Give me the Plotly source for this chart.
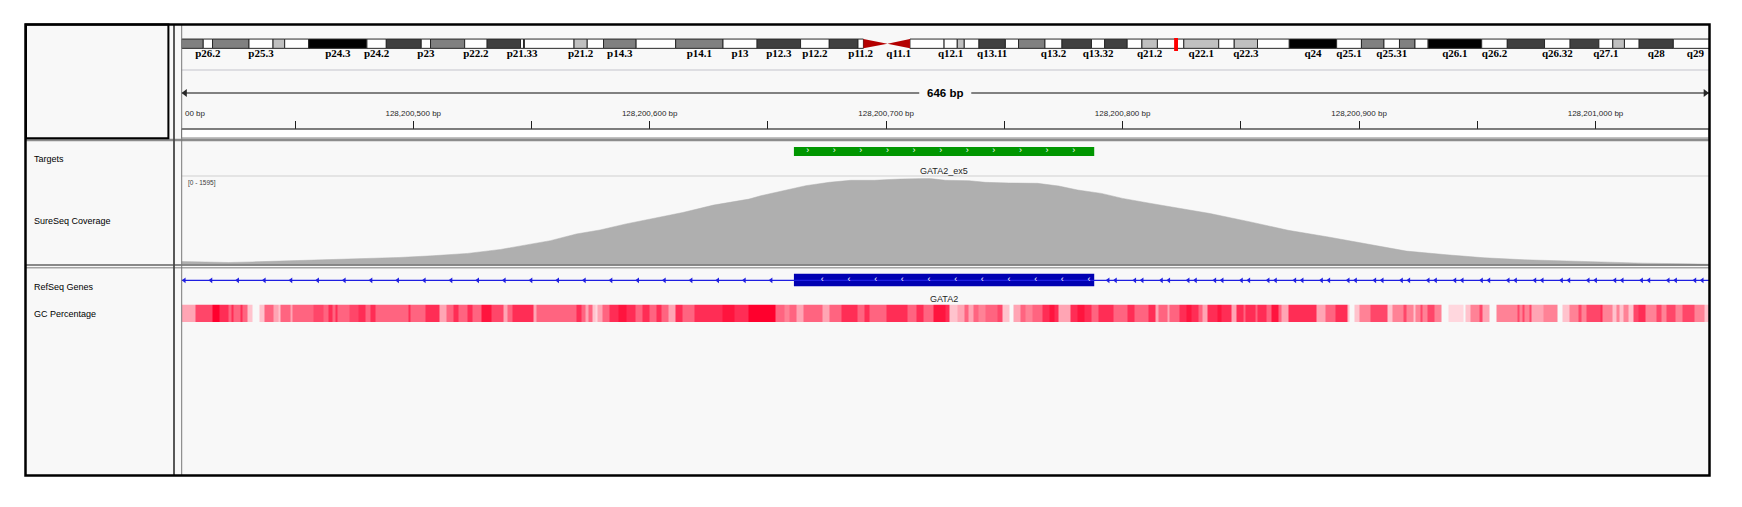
"""
IGV snapshot - GATA2 exon 5 (chr3), SureSeq coverage / RefSeq / GC tracks
"""
import numpy as np
import plotly.graph_objects as go

W, H = 1742, 507

# ─── view window ───
VIEW_START = 128200402
VIEW_END = 128201048

TICK_VALS = [128200450, 128200500, 128200550, 128200600, 128200650, 128200700,
             128200750, 128200800, 128200850, 128200900, 128200950, 128201000]
TICK_TEXT = ["", "128,200,500 bp", "", "128,200,600 bp", "", "128,200,700 bp",
             "", "128,200,800 bp", "", "128,200,900 bp", "", "128,201,000 bp"]

TRACK_NAMES = ["Targets", "SureSeq Coverage", "RefSeq Genes", "GC Percentage"]

TARGET_NAME = "GATA2_ex5"
TARGET_START, TARGET_END = 128200661, 128200788
GENE_NAME = "GATA2"
EXON_START, EXON_END = 128200661, 128200788

# ─── coverage (offset from view start, depth) ───
COV_MAX = 1595
COV_POS = [0, 10, 20, 30, 37, 52, 62, 74, 92, 106, 121, 135, 149, 156, 167, 177, 188, 200, 212, 225,
           240, 245, 255, 264, 274, 283, 293, 304, 316, 323, 333, 340, 350, 362, 371, 379, 389, 398, 410, 423,
           435, 452, 468, 485, 501, 518, 535, 551, 568, 585, 601, 618, 637, 646]
COV_VAL = [56, 45, 37, 48, 56, 74, 93, 112, 130, 161, 205, 279, 379, 441, 565, 639, 751, 850, 962, 1099,
           1210, 1272, 1372, 1458, 1521, 1558, 1558, 1583, 1595, 1558, 1551, 1520, 1508, 1502, 1452, 1378, 1316, 1223, 1129, 1036,
           943, 788, 633, 509, 385, 248, 180, 124, 87, 62, 37, 25, 12, 5]
assert len(COV_POS) == len(COV_VAL)

# ─── GC percentage runs (start offset, %) ───
GC_START = ([0, 6, 13, 16, 20, 21, 22, 25, 26, 28, 30, 33, 35, 39, 41, 42, 46, 47, 56, 60, 62, 64, 65, 66, 71,
             75, 78, 80, 82, 96, 97, 103, 109, 112, 115, 117, 121, 123, 127, 131, 136, 138, 140, 149, 150]
            + [167, 169, 171, 172, 174, 175, 176, 178, 181, 185, 188, 192, 195, 198, 201, 203, 206, 209, 212, 217,
               229, 234, 240, 251, 255, 257, 260, 263, 271, 274, 279, 286, 289, 291, 298, 307, 311, 314, 318, 323, 325, 328]
            + [331, 333, 335, 337, 340, 345, 347, 350, 352, 355, 357, 360, 364, 367, 369, 371, 376, 379, 382, 385,
               388, 394, 400, 403, 409, 412, 413, 417, 418, 422, 425, 427, 430, 432, 434, 438, 440, 444, 446, 449,
               450, 454, 455, 459, 461, 464, 465, 468, 480, 484, 488, 493, 494, 496]
            + [498, 503, 510, 512, 517, 518, 521, 522, 524, 525, 527, 530, 533, 536, 542, 543, 545, 549, 550, 553,
               556, 565, 566, 567, 568, 570, 571, 576, 582, 584, 587, 591, 592, 594, 600, 601, 605, 607, 608, 610,
               612, 614, 616, 619, 624, 626, 628, 632, 635, 640, 644])
GC_PCT = ([42, 64, 90, 72, 56, 72, 56, 72, 56, 36, None, 36, 56, 42, 36, 56, 42, 56, 64, 56, 72, 56, 72, 56, 64,
           72, 56, 72, 56, 72, 56, 72, 42, 56, 72, 56, 72, 56, 80, 64, 42, 56, 72, 42, 56]
          + [72, 56, 42, 56, 36, 30, 42, 56, 72, 80, 72, 56, 72, 56, 72, 56, 42, 72, 56, 72,
             80, 72, 90, 56, 50, 56, 42, 56, 42, 56, 72, 56, 72, 56, 72, 56, 72, 56, 80, 72, 36, 42]
          + [56, 42, 56, 50, 56, 64, 36, None, 42, 56, 50, 56, 72, 80, 72, 42, 72, 80, 72, 56,
             72, 56, 72, 56, 72, 42, 56, 42, 56, 72, 80, 72, 56, 42, 72, 80, 72, 42, 72, 56,
             72, 56, 72, 56, 80, 56, 42, 72, 42, 56, 72, 36, None, 36]
          + [50, 64, 36, 50, 64, 50, 36, 50, 64, 50, 64, 50, None, 30, None, 36, 50, 64, 42, None,
             50, 64, 50, 64, 50, 64, 42, 50, None, 36, 50, 64, 50, 64, 72, 50, 36, 50, 36, 50,
             36, 64, 72, 50, 64, 50, 64, 50, 64, 50, 36])
assert len(GC_START) == len(GC_PCT)

# ─── chr3 cytobands (end in Mb) ───
BAND_NAME = ["p26.3", "p26.2", "p26.1", "p25.3", "p25.2", "p25.1", "p24.3", "p24.2", "p24.1", "p23",
             "p22.3", "p22.2", "p22.1", "p21.33", "p21.32", "p21.31", "p21.2", "p21.1", "p14.3", "p14.2",
             "p14.1", "p13", "p12.3", "p12.2", "p12.1", "p11.2", "p11.1", "q11.1", "q11.2", "q12.1",
             "q12.2", "q12.3", "q13.11", "q13.12", "q13.13", "q13.2", "q13.31", "q13.32", "q13.33", "q21.1",
             "q21.2", "q21.3", "q22.1", "q22.2", "q22.3", "q23", "q24", "q25.1", "q25.2", "q25.31",
             "q25.32", "q25.33", "q26.1", "q26.2", "q26.31", "q26.32", "q26.33", "q27.1", "q27.2", "q27.3",
             "q28", "q29"]
BAND_END = [2.8, 4.0, 8.7, 11.8, 13.3, 16.4, 23.9, 26.4, 30.9, 32.1,
            36.5, 39.4, 43.7, 44.1, 44.2, 50.6, 52.3, 54.4, 58.6, 63.7,
            69.8, 74.2, 79.8, 83.5, 87.2, 87.9, 91.0, 93.9, 98.3, 100.0,
            100.9, 102.8, 106.2, 107.9, 111.3, 113.5, 117.3, 119.0, 121.9, 123.8,
            125.8, 129.2, 133.7, 135.7, 138.7, 142.8, 148.9, 152.1, 155.0, 157.0,
            159.0, 160.7, 167.6, 170.9, 175.7, 179.0, 182.7, 184.5, 186.0, 187.9,
            192.3, 198.0]
BAND_STAIN = ["gpos50", "gneg", "gpos50", "gneg", "gpos25", "gneg", "gpos100", "gneg", "gpos75", "gneg",
              "gpos50", "gneg", "gpos75", "gneg", "gpos50", "gneg", "gpos25", "gneg", "gpos50", "gneg",
              "gpos50", "gneg", "gpos75", "gneg", "gpos75", "gneg", "acen", "acen", "gvar", "gneg",
              "gpos25", "gneg", "gpos75", "gneg", "gpos50", "gneg", "gpos75", "gneg", "gpos75", "gneg",
              "gpos25", "gneg", "gpos25", "gneg", "gpos25", "gneg", "gpos100", "gneg", "gpos50", "gneg",
              "gpos50", "gneg", "gpos100", "gneg", "gpos75", "gneg", "gpos75", "gneg", "gpos25", "gneg",
              "gpos75", "gneg"]
BAND_LABELS = ["p26.2", "p25.3", "p24.3", "p24.2", "p23", "p22.2", "p21.33", "p21.2", "p14.3", "p14.1",
               "p13", "p12.3", "p12.2", "p11.2", "q11.1", "q12.1", "q13.11", "q13.2", "q13.32", "q21.2",
               "q22.1", "q22.3", "q24", "q25.1", "q25.31", "q26.1", "q26.2", "q26.32", "q27.1", "q28", "q29"]

STAIN_COLOR = {
    'gneg': 'rgb(255,255,255)', 'gvar': 'rgb(255,255,255)', 'gpos25': 'rgb(192,192,192)',
    'gpos50': 'rgb(128,128,128)', 'gpos75': 'rgb(64,64,64)', 'gpos100': 'rgb(0,0,0)',
    'acen': 'rgb(180,0,0)',
}

# ─── pixel helpers ───
def px(x):
    return x / W

def py(y):
    return 1 - y / H

DX0, DX1 = 181.5, 1709.0      # data panel
SANS = "Liberation Sans, Arial, sans-serif"

fig = go.Figure()

# ── ideogram ──
band_start = [0.0] + BAND_END[:-1]
idx = [i for i, s in enumerate(BAND_STAIN) if s != 'acen']
fig.add_trace(go.Bar(
    orientation='h', base=[band_start[i] for i in idx],
    x=[BAND_END[i] - band_start[i] for i in idx], y=[43.7] * len(idx), width=9.3,
    marker=dict(color=[STAIN_COLOR[BAND_STAIN[i]] for i in idx],
                line=dict(color='rgb(40,40,40)', width=1)),
    xaxis='x2', yaxis='y3', hoverinfo='skip', showlegend=False,
))
for i, s in enumerate(BAND_STAIN):
    if s != 'acen':
        continue
    a, b = band_start[i], BAND_END[i]
    if BAND_NAME[i].startswith('p'):
        xs, ys = [a, a, b, a], [39, 48.3, 43.7, 39]
    else:
        xs, ys = [b, b, a, b], [39, 48.3, 43.7, 39]
    fig.add_trace(go.Scatter(x=xs, y=ys, fill='toself', fillcolor=STAIN_COLOR['acen'],
                             line=dict(width=0), mode='lines', xaxis='x2', yaxis='y3',
                             hoverinfo='skip', showlegend=False))
# current locus marker
fig.add_trace(go.Bar(
    orientation='h', base=[VIEW_START / 1e6 - 0.25], x=[0.5], y=[44.5], width=13,
    marker=dict(color='rgb(255,0,0)', line=dict(width=0)),
    xaxis='x2', yaxis='y3', hoverinfo='skip', showlegend=False,
))
lab_x = [(band_start[BAND_NAME.index(n)] + BAND_END[BAND_NAME.index(n)]) / 2 for n in BAND_LABELS]
fig.add_trace(go.Scatter(
    x=lab_x, y=[54.5] * len(lab_x), mode='text', text=[f"<b>{n}</b>" for n in BAND_LABELS],
    textfont=dict(family="Liberation Serif, Times New Roman, serif", size=11, color='black'),
    xaxis='x2', yaxis='y3', hoverinfo='skip', showlegend=False, cliponaxis=False,
))

# ── ruler ──
mid = (VIEW_START + VIEW_END) / 2
gap = 11
fig.add_trace(go.Scatter(
    x=[VIEW_START, mid - gap, None, mid + gap, VIEW_END], y=[93, 93, None, 93, 93],
    mode='lines', line=dict(color='rgb(90,90,90)', width=1.3),
    xaxis='x', yaxis='y3', hoverinfo='skip', showlegend=False,
))
fig.add_trace(go.Scatter(
    x=[VIEW_START + 1.5, VIEW_END - 1.5], y=[93, 93], mode='markers',
    marker=dict(symbol=['triangle-left', 'triangle-right'], size=7, color='rgb(40,40,40)'),
    xaxis='x', yaxis='y3', hoverinfo='skip', showlegend=False, cliponaxis=False,
))

# ── targets ──
fig.add_trace(go.Bar(
    orientation='h', base=[TARGET_START], x=[TARGET_END - TARGET_START], y=[151.5], width=9,
    marker=dict(color='rgb(0,150,0)', line=dict(width=0)),
    xaxis='x', yaxis='y3', hoverinfo='skip', showlegend=False,
))
chev_t = np.arange(VIEW_START + 264.8, TARGET_END - 3, 11.25)
fig.add_trace(go.Scatter(
    x=chev_t, y=[151.2] * len(chev_t), mode='text', text=['›'] * len(chev_t),
    textfont=dict(family=SANS, size=9, color='white'),
    xaxis='x', yaxis='y3', hoverinfo='skip', showlegend=False,
))

# ── coverage ──
fig.add_trace(go.Scatter(
    x=[VIEW_START + p for p in COV_POS], y=COV_VAL, mode='lines', fill='tozeroy',
    fillcolor='rgb(175,175,175)', line=dict(color='rgb(175,175,175)', width=0.5),
    xaxis='x', yaxis='y', hoverinfo='skip', showlegend=False,
))

# ── RefSeq gene ──
fig.add_trace(go.Scatter(
    x=[VIEW_START, VIEW_END], y=[280.3, 280.3], mode='lines',
    line=dict(color='rgb(30,30,225)', width=1.2),
    xaxis='x', yaxis='y3', hoverinfo='skip', showlegend=False,
))
fig.add_trace(go.Bar(
    orientation='h', base=[EXON_START], x=[EXON_END - EXON_START], y=[280.0], width=12.6,
    marker=dict(color='rgb(0,0,178)', line=dict(width=0)),
    xaxis='x', yaxis='y3', hoverinfo='skip', showlegend=False,
))
arr_left = np.arange(VIEW_START + 1.2, EXON_START - 3, 11.28)
arr_right = np.arange(VIEW_START + 391.9, VIEW_END - 2, 11.28)
arr_all = np.concatenate([arr_left, arr_right, arr_right + 3.1])
fig.add_trace(go.Scatter(
    x=arr_all, y=[280.3] * len(arr_all), mode='markers',
    marker=dict(symbol='triangle-left', size=5, color='rgb(30,30,225)'),
    xaxis='x', yaxis='y3', hoverinfo='skip', showlegend=False,
))
chev_e = np.arange(VIEW_START + 271.0, EXON_END - 1, 11.28)
fig.add_trace(go.Scatter(
    x=chev_e, y=[279.8] * len(chev_e), mode='text', text=['‹'] * len(chev_e),
    textfont=dict(family=SANS, size=9, color='white'),
    xaxis='x', yaxis='y3', hoverinfo='skip', showlegend=False,
))

# ── GC percentage ──
gc_edges = [VIEW_START + s for s in GC_START] + [VIEW_END]
gc_z = [[np.nan if v is None else v for v in GC_PCT]]
fig.add_trace(go.Heatmap(
    x=gc_edges, y=[0, 1], z=gc_z, zmin=30, zmax=90, showscale=False, hoverongaps=False,
    colorscale=[[0.0, 'rgb(255,215,222)'], [0.1, 'rgb(255,195,205)'], [0.2, 'rgb(255,165,180)'],
                [0.333, 'rgb(255,130,150)'], [0.433, 'rgb(255,100,128)'], [0.567, 'rgb(255,70,105)'],
                [0.7, 'rgb(255,45,85)'], [0.833, 'rgb(255,20,62)'], [1.0, 'rgb(255,0,45)']],
    xaxis='x', yaxis='y2', hoverinfo='skip',
))

# ─── shapes ───
def hline(y, x0, x1, color, width):
    return dict(type='line', xref='paper', yref='paper', x0=px(x0), x1=px(x1), y0=py(y), y1=py(y),
                line=dict(color=color, width=width), layer='above')

def vline(x, y0, y1, color, width):
    return dict(type='line', xref='paper', yref='paper', x0=px(x), x1=px(x), y0=py(y0), y1=py(y1),
                line=dict(color=color, width=width), layer='above')

shapes = [
    dict(type='rect', xref='paper', yref='paper', x0=px(25.5), x1=px(1709.5), y0=py(475.5), y1=py(24.5),
         fillcolor='rgb(248,248,248)', line=dict(width=0), layer='below'),
    dict(type='rect', xref='paper', yref='paper', x0=px(DX0), x1=px(DX1), y0=py(138), y1=py(129),
         fillcolor='white', line=dict(color='rgb(130,130,130)', width=1), layer='below'),
    hline(70, DX0, DX1, 'rgb(222,222,226)', 2),
    hline(129, DX0, DX1, 'rgb(60,60,60)', 1.2),
    hline(140, 25.5, 1709.5, 'rgb(140,140,140)', 2.5),
    hline(176, DX0, DX1, 'rgb(208,208,208)', 1),
    hline(265, 25.5, 1709.5, 'rgb(100,100,100)', 1.5),
    hline(267.8, 25.5, 1709.5, 'rgb(165,165,165)', 1.5),
    vline(174, 24.5, 475.5, 'rgb(70,70,70)', 1.8),
    vline(181.7, 24.5, 475.5, 'rgb(120,120,120)', 1),
    dict(type='rect', xref='paper', yref='paper', x0=px(26), x1=px(168.4), y0=py(138.3), y1=py(24.5),
         line=dict(color='black', width=2), layer='above'),
    dict(type='rect', xref='paper', yref='paper', x0=px(25.5), x1=px(1709.5), y0=py(475.5), y1=py(24.5),
         line=dict(color='black', width=2.5), layer='above'),
]

# ─── annotations ───
def label(text, x, y, size, xref='paper', xanchor='center', color='black'):
    return dict(text=text, x=x, y=py(y), xref=xref, yref='paper', xanchor=xanchor, yanchor='middle',
                showarrow=False, font=dict(family=SANS, size=size, color=color))

ann = [label(name, px(32), y, 9, xanchor='left')
       for name, y in zip(TRACK_NAMES, [159, 221, 287, 314])]
ann += [
    label(f"<b>{VIEW_END - VIEW_START} bp</b>", mid, 93.5, 11.5, xref='x'),
    label("00 bp", px(182.5), 113, 8, xanchor='left', color='rgb(40,40,40)'),
    label(f"[0 - {COV_MAX}]", px(185.5), 182.7, 6.5, xanchor='left', color='rgb(60,60,60)'),
    label(TARGET_NAME, (TARGET_START + TARGET_END) / 2, 170.5, 9, xref='x', color='rgb(30,30,30)'),
    label(GENE_NAME, (EXON_START + EXON_END) / 2, 298.5, 9, xref='x', color='rgb(30,30,30)'),
]

dom_x = [px(DX0), px(DX1)]
fig.update_layout(
    width=W, height=H,
    margin=dict(l=0, r=0, t=0, b=0),
    paper_bgcolor='white', plot_bgcolor='rgba(0,0,0,0)',
    barmode='overlay', showlegend=False,
    xaxis=dict(domain=dom_x, range=[VIEW_START, VIEW_END], anchor='free', position=py(129),
               side='top', ticks='outside', ticklen=8, tickwidth=1, tickcolor='rgb(30,30,30)',
               tickvals=TICK_VALS, ticktext=TICK_TEXT, showline=False, showgrid=False, zeroline=False,
               ticklabelstandoff=2,
               tickfont=dict(family=SANS, size=8, color='rgb(40,40,40)'), fixedrange=True),
    xaxis2=dict(domain=dom_x, range=[0, 196.9], anchor='y3', visible=False, fixedrange=True),
    yaxis=dict(domain=[py(264.5), py(178.3)], range=[0, COV_MAX], anchor='x', visible=False),
    yaxis2=dict(domain=[py(322), py(304.5)], range=[0, 1], anchor='x', visible=False),
    yaxis3=dict(domain=[0, 1], range=[H, 0], anchor='x', visible=False),
    shapes=shapes,
    annotations=ann,
)

# page has a default 8px body margin; drop it so the figure sits at (0,0)
fig.write_html("out.html", config={'displayModeBar': False},
               post_script="document.body.style.margin='0';")
